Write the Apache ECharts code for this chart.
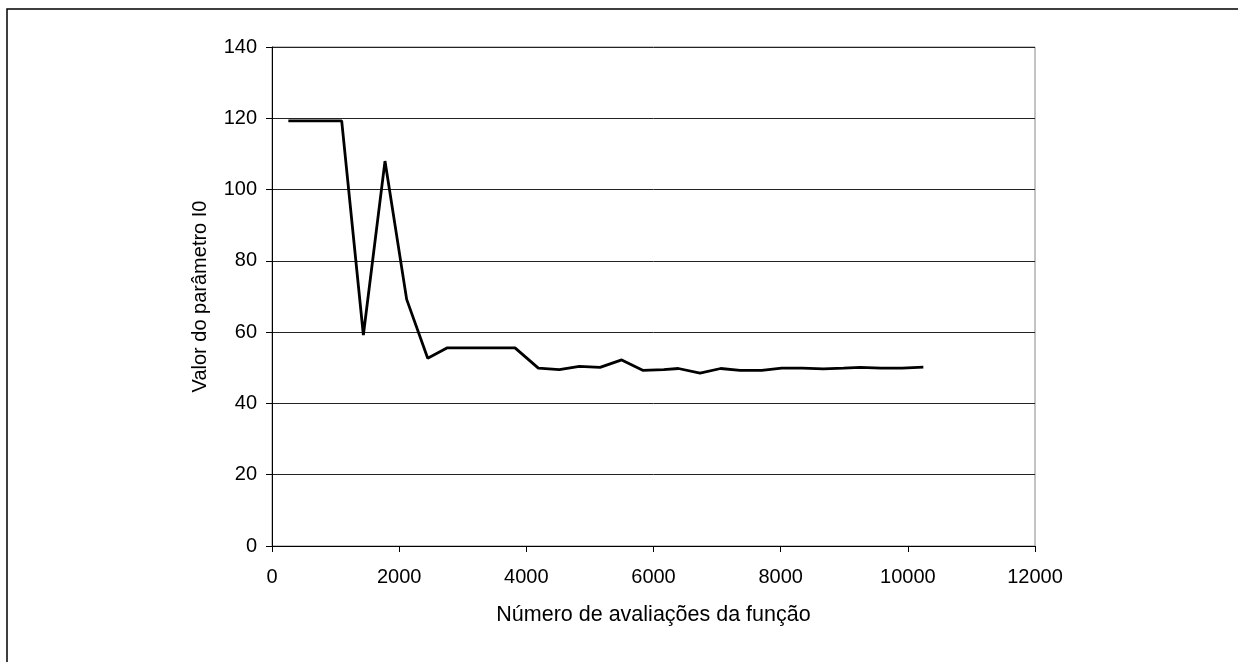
<!DOCTYPE html>
<html>
<head>
<meta charset="utf-8">
<script src="https://cdn.jsdelivr.net/npm/echarts@6/dist/echarts.min.js"></script>
<style>
  html, body { margin: 0; padding: 0; background: #fff; }
  #chart { width: 1238px; height: 662px; }
</style>
</head>
<body>
<div id="chart"></div>
<script>
// avaliações da função (eixo x)
var evals = [257, 1096, 1437, 1777, 2118, 2449, 2758, 3100, 3450, 3822,
  4189, 4519, 4834, 5159, 5500, 5830, 6160, 6391, 6732, 7057, 7361, 7702,
  8016, 8340, 8670, 8990, 9250, 9580, 9910, 10244];
// valor do parâmetro I0
var i0 = [119.3, 119.3, 59.2, 108.0, 69.2, 52.7, 55.6, 55.6, 55.6, 55.6,
  49.9, 49.5, 50.4, 50.1, 52.2, 49.3, 49.5, 49.8, 48.5, 49.8, 49.3, 49.3,
  49.9, 49.9, 49.7, 49.9, 50.1, 49.9, 49.9, 50.2];

var pts = evals.map(function (x, i) { return [x, i0[i]]; });

var chart = echarts.init(document.getElementById('chart'));
var font = 'Liberation Sans, Arial, sans-serif';

chart.setOption({
  animation: false,
  graphic: [{
    type: 'rect',
    shape: { x: 7, y: 9, width: 1400, height: 800 },
    style: { fill: 'none', stroke: '#000', lineWidth: 1.5 },
    silent: true
  }],
  grid: {
    left: 272, right: 203, top: 47, bottom: 116,
    show: true, borderColor: '#888', borderWidth: 1
  },
  xAxis: {
    type: 'value', min: 0, max: 12000, interval: 2000,
    name: 'Número de avaliações da função',
    nameLocation: 'middle', nameGap: 58,
    nameTextStyle: { fontFamily: font, fontSize: 21.5, color: '#000' },
    axisLine: { lineStyle: { color: '#000', width: 1 } },
    axisTick: { show: true, inside: false, length: 6, lineStyle: { color: '#000' } },
    axisLabel: { fontFamily: font, fontSize: 20, color: '#000', margin: 21,
      formatter: function (v) { return String(v); } },
    splitLine: { show: false }
  },
  yAxis: {
    type: 'value', min: 0, max: 140, interval: 20,
    name: 'Valor do parâmetro I0',
    nameLocation: 'middle', nameGap: 62,
    nameTextStyle: { fontFamily: font, fontSize: 20, color: '#000' },
    axisLine: { show: true, lineStyle: { color: '#000', width: 1 } },
    axisTick: { show: true, inside: false, length: 6, lineStyle: { color: '#000' } },
    axisLabel: { fontFamily: font, fontSize: 20, color: '#000', margin: 15 },
    splitLine: { show: true, lineStyle: { color: '#222', width: 1 } }
  },
  series: [{
    type: 'line',
    data: pts,
    showSymbol: false,
    lineStyle: { color: '#000', width: 2.8 },
    itemStyle: { color: '#000' }
  }]
});
</script>
</body>
</html>
